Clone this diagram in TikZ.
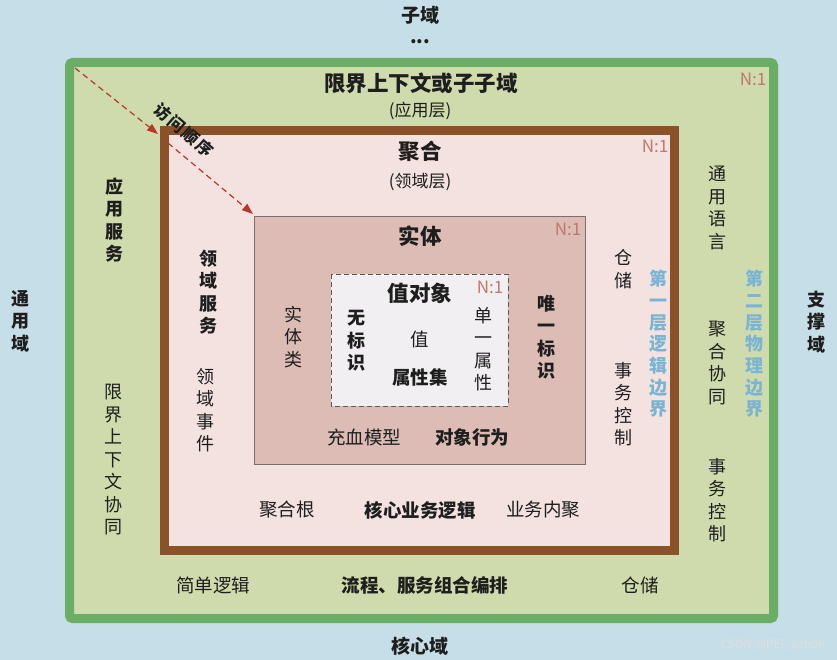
\documentclass[tikz,border=0pt]{standalone}
\usepackage{fontspec}
\setmainfont{Noto Sans CJK SC}
\usetikzlibrary{arrows.meta}
\definecolor{bgblue}{RGB}{198,222,231}
\definecolor{gborder}{RGB}{106,174,102}
\definecolor{gfill}{RGB}{207,219,172}
\definecolor{bborder}{RGB}{139,82,41}
\definecolor{pfill}{RGB}{243,226,223}
\definecolor{efill}{RGB}{220,188,181}
\definecolor{eborder}{RGB}{120,110,110}
\definecolor{vfill}{RGB}{241,239,241}
\definecolor{ncolor}{RGB}{190,120,110}
\definecolor{bluetext}{RGB}{122,180,212}
\definecolor{arrred}{RGB}{184,54,42}
\definecolor{txt}{RGB}{30,30,30}
\tikzset{
  lab/.style={inner sep=0pt, text=txt, font=\fontsize{18.5}{22}\selectfont},
  blab/.style={lab, font=\fontsize{18.5}{22}\selectfont\bfseries},
  title/.style={inner sep=0pt, text=txt, font=\fontsize{21.5}{25}\selectfont\bfseries},
  paren/.style={lab, font=\fontsize{17}{20}\selectfont},
  vlab/.style={lab, align=center, font=\fontsize{18}{22.5}\selectfont},
  vblab/.style={lab, align=center, font=\fontsize{18}{22.5}\selectfont\bfseries},
  vblue/.style={vblab, text=bluetext, font=\fontsize{18}{21.7}\selectfont\bfseries},
  ratio/.style={inner sep=0pt, text=ncolor, font=\fontsize{17}{20}\selectfont},
  visit/.style={arrred, dashed, line width=1.2pt, dash pattern=on 6pt off 4pt, -{Triangle[length=11pt,width=8pt]}}
}
\begin{document}
\begin{tikzpicture}[x=1pt,y=-1pt]
\useasboundingbox (0,0) rectangle (837,660);
\fill[bgblue] (0,0) rectangle (837,660);
% boxes
\draw[gborder, line width=9pt, fill=gfill, rounded corners=3pt] (69.5,62.5) rectangle (773.5,618.5);
\draw[bborder, line width=9pt, fill=pfill] (164.5,130.5) rectangle (674.5,550.5);
\draw[eborder, line width=0.8pt, fill=efill] (254,216) rectangle (585,464);
\draw[eborder!80!black, line width=1pt, dashed, dash pattern=on 5pt off 3pt, fill=vfill] (331,274) rectangle (508,406);

% outside labels
\node[title, font=\fontsize{19}{22}\selectfont\bfseries] (sub) at (420,15) {子域};
\node[title, font=\fontsize{19}{22}\selectfont\bfseries] (dots) at (420,42) {...};
\node[vblab] (gen) at (21,321) {通\\用\\域};
\node[vblab] (sup) at (816,322) {支\\撑\\域};
\node[blab, font=\fontsize{19}{22}\selectfont\bfseries] (core) at (420,646) {核心域};

% green layer
\node[title] (bc) at (421,83) {限界上下文或子子域};
\node[paren] (app) at (420,111) {(应用层)};
\node[ratio] (n1) at (753,79) {N:1};
\node[vblab] (appsvc) at (114,220) {应\\用\\服\\务};
\node[vlab] (bccoop) at (113,460) {限\\界\\上\\下\\文\\协\\同};
\node[vlab] (ul) at (717,208) {通\\用\\语\\言};
\node[vlab] (aggco) at (717,363) {聚\\合\\协\\同};
\node[vlab] (tx2) at (717,500) {事\\务\\控\\制};
\node[vblue] (phys) at (754,344) {第\\二\\层\\物\\理\\边\\界};
\node[lab] (simple) at (213,585) {简单逻辑};
\node[blab] (flow) at (425,585) {流程、服务组合编排};
\node[lab] (repo2) at (640,585) {仓储};

% brown layer
\node[title] (agg) at (420,151) {聚合};
\node[paren] (dom) at (420,182) {(领域层)};
\node[ratio] (n2) at (655,146) {N:1};
\node[vblab] (domsvc) at (208,292) {领\\域\\服\\务};
\node[vlab] (domevt) at (205,410) {领\\域\\事\\件};
\node[vlab] (repo1) at (623,269) {仓\\储};
\node[vlab] (tx1) at (623,404) {事\\务\\控\\制};
\node[vblue] (logic) at (658,344) {第\\一\\层\\逻\\辑\\边\\界};
\node[lab] (root) at (287,510) {聚合根};
\node[blab] (corebiz) at (420,510) {核心业务逻辑};
\node[lab] (cohes) at (543,510) {业务内聚};

% entity layer
\node[title] (ent) at (420,236) {实体};
\node[ratio] (n3) at (568,229) {N:1};
\node[vlab] (entcls) at (293,337) {实\\体\\类};
\node[vblab] (uid) at (546,337) {唯\\一\\标\\识};
\node[lab] (rich) at (364,437) {充血模型};
\node[blab] (beh) at (472,437) {对象行为};

% value object layer
\node[title] (vo) at (420,293) {值对象};
\node[ratio] (n4) at (490,287) {N:1};
\node[vblab] (noid) at (356,341) {无\\标\\识};
\node[lab] (val) at (420,339) {值};
\node[vlab] (single) at (483,349) {单\\一\\属\\性};
\node[blab] (attrs) at (420,377) {属性集};

% access order arrow
\coordinate (s0) at (75,68);
\coordinate (c1) at (158,134);
\coordinate (s1) at (168,143);
\coordinate (c2) at (253,214);
\draw[visit] (s0) -- (c1);
\draw[visit] (s1) -- (c2);
\node[blab, font=\fontsize{16.5}{19}\selectfont\bfseries\addfontfeature{LetterSpace=12}, rotate=-41] (order) at (184,130) {访问顺序};

% watermark credit
\node[inner sep=0pt, text=white!75!gray, font=\fontsize{12}{14}\selectfont] (csdn) at (773,645) {CSDN @PEI\_simon};
\end{tikzpicture}
\end{document}
